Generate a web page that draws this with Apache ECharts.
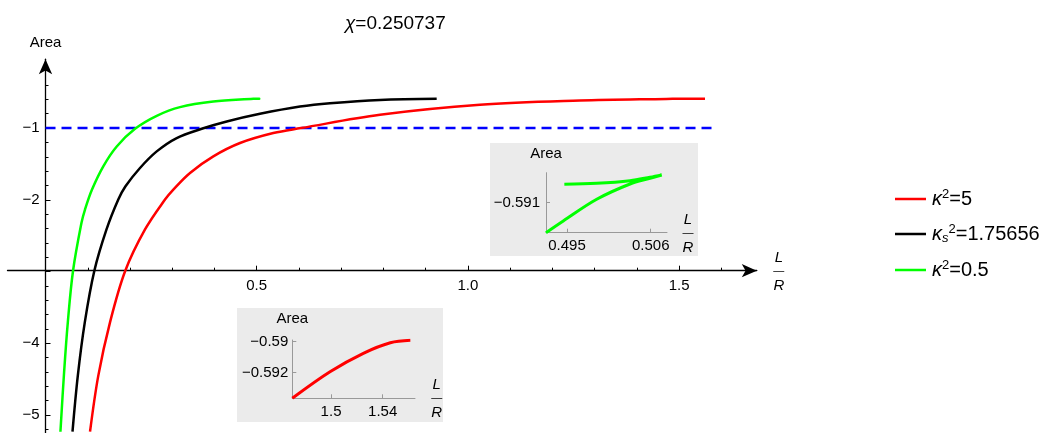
<!DOCTYPE html>
<html><head><meta charset="utf-8">
<script src="https://cdn.jsdelivr.net/npm/echarts@6/dist/echarts.min.js"></script>
<style>html,body{margin:0;padding:0;background:#fff}#c{width:1041px;height:433px}</style>
</head><body><div id="c"></div>
<script>
// ---- data (x = L/R, y = Area) ----
const kappa5 = [[0.1054,-5.232],[0.125,-4.45],[0.1527,-3.708],[0.1886,-2.992],[0.2356,-2.413],[0.2829,-1.996],[0.3026,-1.857],[0.3421,-1.625],[0.3973,-1.394],[0.4605,-1.208],[0.5393,-1.069],[0.6049,-1.0],[0.7919,-0.815],[1.0286,-0.676],[1.2654,-0.617],[1.47,-0.59365],[1.4992,-0.59194],[1.525,-0.59075],[1.5459,-0.59007],[1.5614,-0.58991]];
const kappaS = [[0.0639,-5.232],[0.0765,-4.45],[0.093,-3.708],[0.1155,-2.992],[0.1444,-2.413],[0.1723,-1.996],[0.1894,-1.811],[0.2237,-1.556],[0.2633,-1.325],[0.3106,-1.139],[0.3698,-1.01],[0.429,-0.908],[0.5078,-0.801],[0.6025,-0.7],[0.6735,-0.653],[0.7919,-0.607],[0.9261,-0.592]];
const kappa05 = [[0.0353,-5.232],[0.044,-4.403],[0.0528,-3.708],[0.0651,-2.992],[0.0852,-2.319],[0.0935,-2.135],[0.1101,-1.857],[0.1368,-1.533],[0.1686,-1.256],[0.2119,-1.01],[0.2633,-0.829],[0.3184,-0.708],[0.3973,-0.631],[0.49224,-0.591938],[0.49451,-0.591572],[0.4989,-0.590894],[0.50328,-0.590416],[0.50591,-0.590238],[0.50745,-0.590134],[0.50591,-0.590206],[0.50328,-0.590313],[0.4989,-0.590394],[0.49465,-0.590425]];
const refLine = [[0,-1],[1.589,-1]];
const seriesNames = ['κ²=5','κs²=1.75656','κ²=0.5'];
const seriesColors = ['#ff0000','#000000','#00ff00'];
const legendRich = {'κ²=5':'{k|κ}{sp|2}{t|=5}','κs²=1.75656':'{k|κ}{sb|s}{sp|2}{t|=1.75656}','κ²=0.5':'{k|κ}{sp|2}{t|=0.5}'};
const chiValue = '0.250737';
const mainXLabels = [0.5,1.0,1.5];
const mainYLabels = [-5,-4,-2,-1];
const mainYMajor = [-5,-4,-3,-2,-1];
const inset1XLabels = [0.495,0.506];
const inset1YLabels = [-0.591];
const inset2XLabels = [1.5,1.54];
const inset2YLabels = [-0.59,-0.592];
const inset1From = 0.4922;   // first L/R shown in the green inset
const inset2From = 1.47;     // first L/R shown in the red inset

const FONT = 'Liberation Sans';
const minorX = []; for (let i=1;i<=16;i++) minorX.push(+(i*0.1).toFixed(1));
const minorY = []; for (let i=1;i<=26;i++) minorY.push(+(-i*0.2).toFixed(1));
const neg = v => (v<0?'\u2212':'') + Math.abs(v);
const fracName = '{l|L}\n{b|\u2014}\n{r|R}';
const fracStyle = {align:'center', color:'#000', rich:{
  l:{fontStyle:'italic',fontSize:15,lineHeight:15,fontFamily:FONT,color:'#000'},
  b:{fontSize:11,lineHeight:11,fontFamily:FONT,color:'#000'},
  r:{fontStyle:'italic',fontSize:15,lineHeight:15,fontFamily:FONT,color:'#000',padding:[4,0,0,0]}}};
const lbl = {color:'#000', fontSize:15, fontFamily:FONT};

function mainAxisCommon(){return {type:'value', splitLine:{show:false}, axisLine:{onZero:false}};}

const option = {
  animation:false,
  backgroundColor:'#fff',
  title:{text:'{i|\u03c7}=' + chiValue, left:340, top:9,
    textStyle:{fontSize:19, fontWeight:'normal', color:'#000', fontFamily:FONT,
      rich:{i:{fontStyle:'italic', fontSize:19, fontFamily:FONT, color:'#000'}}}},
  legend:{orient:'vertical', left:890, top:183, itemWidth:31, itemHeight:2.5, itemGap:14, icon:'rect',
    data:seriesNames, formatter:n=>legendRich[n],
    textStyle:{fontSize:20, color:'#000', fontFamily:FONT,
      rich:{k:{fontSize:20,fontFamily:FONT,color:'#000',fontStyle:'italic',padding:[0,0,0,1],lineHeight:22},
            sp:{fontSize:13,fontFamily:FONT,color:'#000',verticalAlign:'top',lineHeight:12},
            sb:{fontSize:13,fontFamily:FONT,color:'#000',fontStyle:'italic',verticalAlign:'bottom',lineHeight:12},
            t:{fontSize:20,fontFamily:FONT,color:'#000',lineHeight:22}}}},
  graphic:[
    {type:'rect', z:-1, shape:{x:490,y:143,width:208,height:113}, style:{fill:'#ebebeb'}},
    {type:'rect', z:-1, shape:{x:237,y:308,width:206,height:114}, style:{fill:'#ebebeb'}}
  ],
  grid:[
    {left:7.5, top:59.2, width:749.3, height:375.1},
    {left:546, top:172.7, width:121, height:60},
    {left:292.3, top:340, width:122.7, height:58.3}
  ],
  xAxis:[
    Object.assign(mainAxisCommon(),{gridIndex:0, min:-0.09, max:1.684, position:'bottom', offset:-162.3,
      axisLine:{onZero:false, symbol:['none','arrow'], symbolSize:[10,15], lineStyle:{color:'#000',width:1.3}},
      axisTick:{customValues:mainXLabels, inside:true, length:5, lineStyle:{color:'#000'}},
      axisLabel:Object.assign({customValues:mainXLabels, formatter:v=>v.toFixed(1), margin:8},lbl),
      name:fracName, nameLocation:'end', nameGap:22, nameTextStyle:fracStyle}),
    Object.assign(mainAxisCommon(),{gridIndex:0, min:-0.09, max:1.684, position:'bottom', offset:-162.3,
      axisLine:{show:false,onZero:false}, axisLabel:{show:false},
      axisTick:{customValues:minorX, inside:true, length:3, lineStyle:{color:'#000'}}}),
    Object.assign(mainAxisCommon(),{gridIndex:1, min:0.49224, max:0.50814, position:'bottom',
      axisLine:{onZero:false, lineStyle:{color:'#999',width:1}},
      axisTick:{customValues:inset1XLabels, inside:true, length:4, lineStyle:{color:'#999'}},
      axisLabel:Object.assign({customValues:inset1XLabels, formatter:v=>v.toFixed(3), margin:6},lbl),
      name:fracName, nameLocation:'end', nameGap:21, nameTextStyle:fracStyle}),
    Object.assign(mainAxisCommon(),{gridIndex:2, min:1.47, max:1.565, position:'bottom',
      axisLine:{onZero:false, lineStyle:{color:'#999',width:1}},
      axisTick:{customValues:inset2XLabels, inside:true, length:4, lineStyle:{color:'#999'}},
      axisLabel:Object.assign({customValues:inset2XLabels, formatter:v=>String(v), margin:6},lbl),
      name:fracName, nameLocation:'end', nameGap:21.7, nameTextStyle:fracStyle})
  ],
  yAxis:[
    Object.assign(mainAxisCommon(),{gridIndex:0, min:-5.25, max:-0.04, position:'left', offset:-38,
      axisLine:{onZero:false, symbol:['none','arrow'], symbolSize:[10,15], lineStyle:{color:'#000',width:1.3}},
      axisTick:{customValues:mainYMajor, inside:true, length:5, lineStyle:{color:'#000'}},
      axisLabel:Object.assign({customValues:mainYLabels, formatter:neg, margin:6},lbl),
      name:'Area', nameLocation:'end', nameGap:9, nameTextStyle:{fontSize:15, color:'#000', fontFamily:FONT, align:'center'}}),
    Object.assign(mainAxisCommon(),{gridIndex:0, min:-5.25, max:-0.04, position:'left', offset:-38,
      axisLine:{show:false,onZero:false}, axisLabel:{show:false},
      axisTick:{customValues:minorY, inside:true, length:3, lineStyle:{color:'#000'}}}),
    Object.assign(mainAxisCommon(),{gridIndex:1, min:-0.591938, max:-0.590063, position:'left',
      axisLine:{onZero:false, lineStyle:{color:'#999',width:1}},
      axisTick:{customValues:inset1YLabels, inside:true, length:4, lineStyle:{color:'#999'}},
      axisLabel:Object.assign({customValues:inset1YLabels, formatter:neg, margin:6},lbl),
      name:'Area', nameLocation:'end', nameGap:11, nameTextStyle:{fontSize:15, color:'#000', fontFamily:FONT, align:'center'}}),
    Object.assign(mainAxisCommon(),{gridIndex:2, min:-0.59365, max:-0.58989, position:'left',
      axisLine:{onZero:false, lineStyle:{color:'#999',width:1}},
      axisTick:{customValues:inset2YLabels, inside:true, length:4, lineStyle:{color:'#999'}},
      axisLabel:Object.assign({customValues:inset2YLabels, formatter:neg, margin:4},lbl),
      name:'Area', nameLocation:'end', nameGap:14, nameTextStyle:{fontSize:15, color:'#000', fontFamily:FONT, align:'center'}})
  ],
  series:[
    {type:'line', name:'ref', xAxisIndex:0, yAxisIndex:0, data:refLine, showSymbol:false, silent:true,
      lineStyle:{color:'#0000ff', width:2.5, type:[10,6]}, z:2},
    {type:'line', name:seriesNames[0], xAxisIndex:0, yAxisIndex:0, data:kappa5, showSymbol:false, smooth:0.35, color:seriesColors[0], lineStyle:{width:2.5}, z:3},
    {type:'line', name:seriesNames[1], xAxisIndex:0, yAxisIndex:0, data:kappaS, showSymbol:false, smooth:0.35, color:seriesColors[1], lineStyle:{width:2.5}, z:3},
    {type:'line', name:seriesNames[2], xAxisIndex:0, yAxisIndex:0, data:kappa05, showSymbol:false, smooth:0.35, color:seriesColors[2], lineStyle:{width:2.5}, z:3},
    {type:'line', name:seriesNames[2], xAxisIndex:2, yAxisIndex:2, data:kappa05.filter(p=>p[0]>=inset1From), showSymbol:false, smooth:0.35, color:seriesColors[2], lineStyle:{width:3}, z:3},
    {type:'line', name:seriesNames[0], xAxisIndex:3, yAxisIndex:3, data:kappa5.filter(p=>p[0]>=inset2From), showSymbol:false, smooth:0.35, color:seriesColors[0], lineStyle:{width:3}, z:3}
  ]
};
const chart = echarts.init(document.getElementById('c'), null, {renderer:'canvas'});
chart.setOption(option);
</script></body></html>
